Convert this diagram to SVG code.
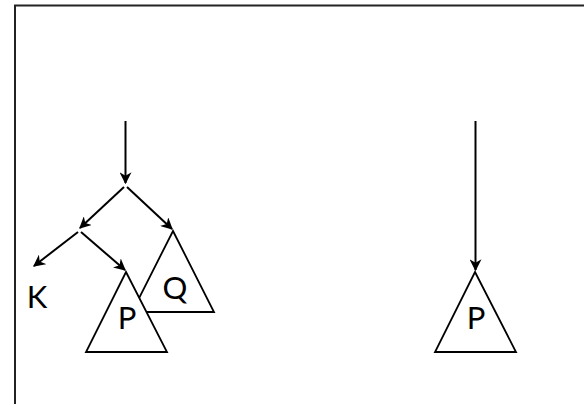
<svg xmlns="http://www.w3.org/2000/svg" width="584" height="404" viewBox="0 0 584 404">
<defs>
<marker id="ah" viewBox="0 0 10 10" refX="9" refY="5" markerWidth="6" markerHeight="6" orient="auto" markerUnits="strokeWidth">
<path d="M0,0 L10,5 L0,10 L3,5 Z" fill="#000"/>
</marker>
<style>
.tri{fill:#fff;stroke:#000;stroke-width:1.8;stroke-linejoin:miter}
.lbl{font-family:Lato,"Liberation Sans",sans-serif;font-size:31px;fill:#000;text-anchor:middle}
.con{stroke:#000;stroke-width:2;fill:none;marker-end:url(#ah)}
</style>
</defs>
<rect width="584" height="404" fill="#fff"/>
<path d="M15,404 L15,5.5 L584,5.5" fill="none" stroke="#222" stroke-width="2"/>
<g id="nodeQ">
<polygon class="tri" points="173,231 214,312 132,312"/>
<text class="lbl" x="175" y="299">Q</text>
</g>
<g id="nodeP1">
<polygon class="tri" points="126,272 167,352 86,352"/>
<text class="lbl" x="127" y="329">P</text>
</g>
<g id="nodeK">
<text class="lbl" x="37" y="308">K</text>
</g>
<g id="nodeP2">
<polygon class="tri" points="475,272 516,352 435,352"/>
<text class="lbl" x="476" y="329">P</text>
</g>
<g id="connectors">
<line class="con" x1="125.5" y1="121" x2="125.5" y2="183"/>
<line class="con" x1="124" y1="187" x2="80" y2="228"/>
<line class="con" x1="127" y1="187" x2="172" y2="229"/>
<line class="con" x1="78" y1="232" x2="34" y2="266"/>
<line class="con" x1="81" y1="232" x2="125" y2="270"/>
<line class="con" x1="475.5" y1="121" x2="475.5" y2="270"/>
</g>
</svg>
